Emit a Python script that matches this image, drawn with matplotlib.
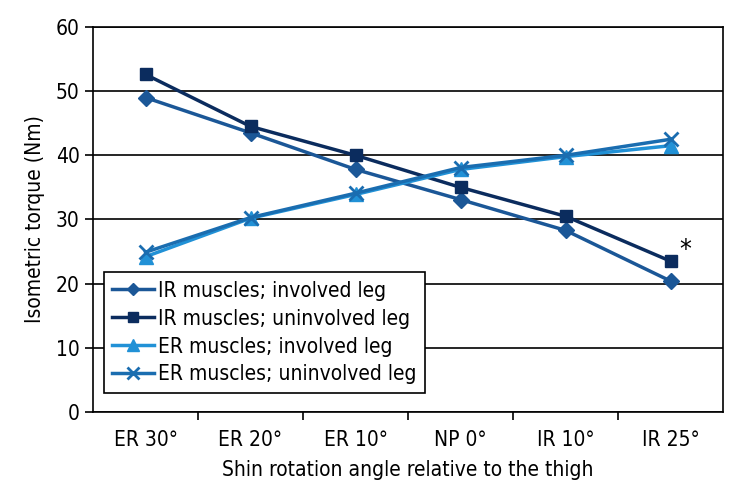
import numpy as np
import matplotlib
matplotlib.use('Agg')
import matplotlib.pyplot as plt
from matplotlib.ticker import FixedLocator, NullFormatter

plt.rcParams['font.family'] = ['DejaVu Sans']
plt.rcParams['font.stretch'] = 'condensed'

# Data
angles = ['ER 30°', 'ER 20°', 'ER 10°', 'NP 0°', 'IR 10°', 'IR 25°']
ir_involved = [49.0, 43.5, 37.8, 33.1, 28.3, 20.4]
ir_uninvolved = [52.6, 44.5, 40.0, 35.0, 30.5, 23.5]
er_involved = [24.2, 30.2, 33.9, 37.8, 39.8, 41.5]
er_uninvolved = [24.9, 30.3, 34.1, 38.1, 40.0, 42.5]

fig = plt.figure(figsize=(7.44, 5.04), dpi=100)
ax = fig.add_axes([0.125, 0.1825, 0.847, 0.764])

x = np.arange(len(angles))
ax.plot(x, ir_involved, color='#1b5797', marker='D', markersize=8, lw=2.5,
        label='IR muscles; involved leg')
ax.plot(x, ir_uninvolved, color='#0b2c5e', marker='s', markersize=9, lw=2.5,
        label='IR muscles; uninvolved leg')
ax.plot(x, er_involved, color='#2191d6', marker='^', markersize=10, lw=2.5,
        label='ER muscles; involved leg')
ax.plot(x, er_uninvolved, color='#1a6db0', marker='x', markersize=10, lw=2.5,
        mew=2, label='ER muscles; uninvolved leg')

# significance marker
ax.text(x[-1] + 0.08, ir_uninvolved[-1] + 1.6, '*', fontsize=19, ha='left', va='center')

ax.set_xlim(-0.5, len(angles) - 0.5)
ax.set_ylim(0, 60)
ax.set_yticks(np.arange(0, 61, 10))
ax.yaxis.grid(True, color='black', lw=1.2)
ax.set_axisbelow(True)

ax.set_xticks(x)
ax.set_xticklabels(angles, fontsize=15)
ax.tick_params(axis='x', which='major', length=0, pad=13)
ax.xaxis.set_minor_locator(FixedLocator(np.arange(0.5, len(angles) - 1, 1)))
ax.xaxis.set_minor_formatter(NullFormatter())
ax.tick_params(axis='x', which='minor', length=6, width=1.2)
ax.tick_params(axis='y', labelsize=15, length=6, width=1.2)

for s in ax.spines.values():
    s.set_color('black')
    s.set_linewidth(1.2)

ax.set_xlabel('Shin rotation angle relative to the thigh', fontsize=15, labelpad=7)
ax.set_ylabel('Isometric torque (Nm)', fontsize=15, labelpad=8)

leg = ax.legend(loc='lower left', bbox_to_anchor=(0.017, 0.05), fontsize=15,
                frameon=True, fancybox=False, framealpha=1, edgecolor='black',
                handlelength=2.0, handletextpad=0.2, labelspacing=0.38,
                borderpad=0.4, borderaxespad=0, markerscale=0.8)
leg.get_frame().set_linewidth(1.2)

fig.savefig('out.png', dpi=100)
